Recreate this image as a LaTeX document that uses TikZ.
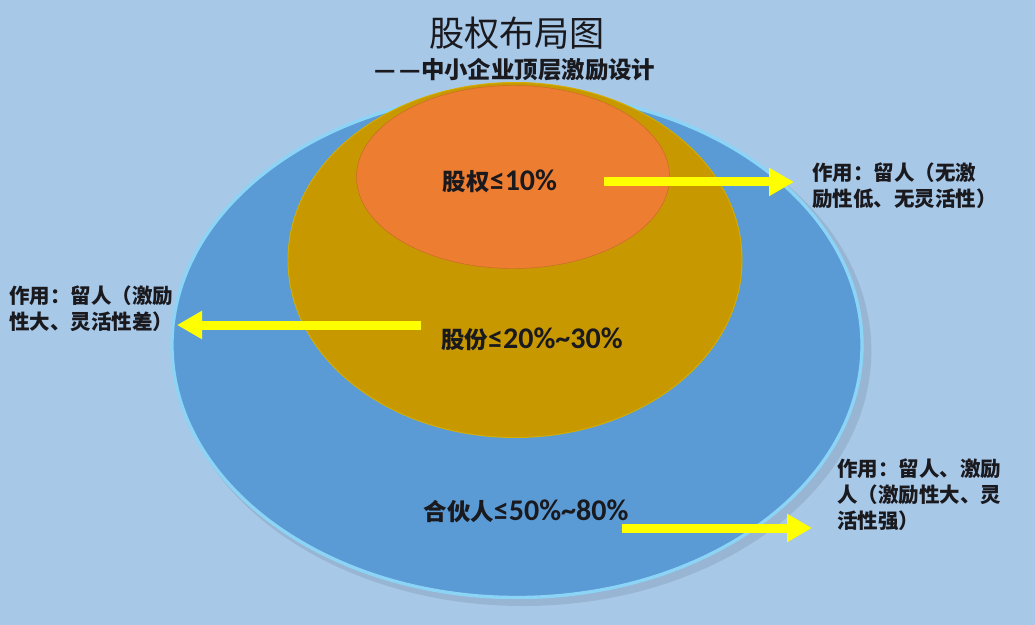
\documentclass[tikz,border=0pt]{standalone}
\usepackage{fontspec}
\setmainfont{Noto Sans CJK SC}
\newfontfamily\latinfont{Carlito}[Scale=1.28]
\usetikzlibrary{shapes.geometric,arrows.meta,positioning}

\definecolor{bgblue}{RGB}{168,200,232}
\definecolor{outerblue}{RGB}{91,155,213}
\definecolor{rimblue}{RGB}{140,212,246}
\definecolor{goldfill}{RGB}{200,152,0}
\definecolor{orangefill}{RGB}{237,125,49}
\definecolor{arrowyellow}{RGB}{255,255,0}
\definecolor{textdark}{RGB}{25,25,30}

\tikzset{
  ring/.style={ellipse, inner sep=0pt},
  yarrow/.style={draw=arrowyellow, line width=0.27cm, -{Triangle[length=0.75cm,width=0.8cm]}},
  ringlabel/.style={font=\fontsize{20}{24}\selectfont\bfseries, text=textdark},
  note/.style={anchor=north west, align=left, inner sep=0pt, font=\fontsize{17.5}{22}\selectfont\bfseries, text=textdark}
}

\begin{document}
\begin{tikzpicture}[x=0.03cm, y=-0.03cm]
  % draw the background
  \useasboundingbox (0,0) rectangle (1035,625);
  \fill[bgblue] (0,0) rectangle (1035,625);

  % draw the title
  \node[font=\fontsize{30}{36}\selectfont, text=textdark] (title) at (517,33) {股权布局图};
  \node[font=\fontsize{20}{24}\selectfont\bfseries, text=textdark] (subtitle) at (515,70) {—\hspace{3pt}—中小企业顶层激励设计};

  % draw the three rings
  \node[ring, fill=black, opacity=0.09, minimum width=20.9cm, minimum height=15.3cm] (shadow) at (523,351) {};
  \node[ring, fill=outerblue, draw=rimblue, line width=0.1cm, minimum width=20.7cm, minimum height=15.15cm] (partner) at (517,345) {};
  \node[ring, fill=goldfill, draw=goldfill!80!yellow, line width=0.8pt, minimum width=13.62cm, minimum height=10.65cm] (share) at (515,260) {};
  \node[ring, fill=orangefill, draw=orangefill!85!black, line width=0.4pt, minimum width=9.39cm, minimum height=5.49cm] (equity) at (513,177) {};

  % labels in the rings
  \node[ringlabel] (equitylabel) at (500,181) {股权{\latinfont ≤10\%}};
  \node[ringlabel] (sharelabel) at (532,339) {股份{\latinfont ≤20\%\textasciitilde30\%}};
  \node[ringlabel] (partnerlabel) at (526,511) {合伙人{\latinfont ≤50\%\textasciitilde80\%}};

  % notes beside the rings
  \node[note] (equitynote) at (812,163) {作用：留人（无激\\励性低、无灵活性）};
  \node[note] (sharenote) at (9,286) {作用：留人（激励\\性大、灵活性差）};
  \node[note] (partnernote) at (837,459) {作用：留人、激励\\人（激励性大、灵\\活性强）};

  % draw the yellow arrows
  \coordinate (equitytail) at (604,182);
  \coordinate (equitytip) at (794,182);
  \coordinate (sharetail) at (421,325);
  \coordinate (sharetip) at (177,325);
  \coordinate (partnertail) at (622,528);
  \coordinate (partnertip) at (812,528);
  \draw[yarrow] (equitytail) -- (equitytip);
  \draw[yarrow] (sharetail) -- (sharetip);
  \draw[yarrow] (partnertail) -- (partnertip);
\end{tikzpicture}
\end{document}
